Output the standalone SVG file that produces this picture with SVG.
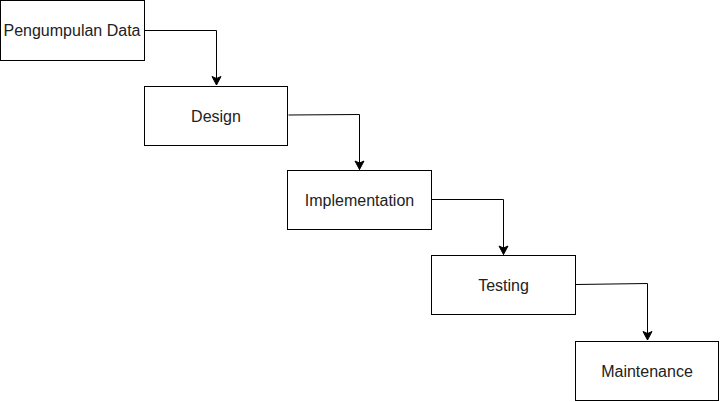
<svg xmlns="http://www.w3.org/2000/svg" width="720" height="402" viewBox="0 0 720 402">
<style>
.box{fill:#fff;stroke:#000;stroke-width:1}
.lbl{font-family:"Liberation Sans",Arial,sans-serif;font-size:16px;fill:#222;text-anchor:middle}
.edge{fill:none;stroke:#000;stroke-width:1}
</style>
<defs>
<marker id="arr" markerUnits="userSpaceOnUse" markerWidth="12" markerHeight="12" viewBox="0 0 12 12" refX="10" refY="6" orient="auto">
<path d="M1.5,1.5 L10,6 L1.5,10.5 L3.5,6 Z" fill="#000" stroke="#000" stroke-width="1"/>
</marker>
</defs>
<rect width="720" height="402" fill="#fff"/>
<g id="connectors">
<path class="edge" d="M144.5,30.5 H216.5 V85" marker-end="url(#arr)"/>
<path class="edge" d="M288.5,115 L359.5,114.5 V169.5" marker-end="url(#arr)"/>
<path class="edge" d="M432,199.5 H503.5 V254.5" marker-end="url(#arr)"/>
<path class="edge" d="M575.5,284.5 L647.5,283.5 V340" marker-end="url(#arr)"/>
</g>
<g id="n1"><rect class="box" x="0.5" y="0.5" width="144" height="60"/><text class="lbl" x="72" y="36">Pengumpulan Data</text></g>
<g id="n2"><rect class="box" x="144.5" y="86.5" width="143" height="59"/><text class="lbl" x="216" y="121.5">Design</text></g>
<g id="n3"><rect class="box" x="287.5" y="170.5" width="144" height="59"/><text class="lbl" x="359.5" y="205.5">Implementation</text></g>
<g id="n4"><rect class="box" x="431.5" y="255.5" width="144" height="59"/><text class="lbl" x="503.5" y="290.5">Testing</text></g>
<g id="n5"><rect class="box" x="575.5" y="341.5" width="143" height="59"/><text class="lbl" x="647" y="376.5">Maintenance</text></g>
</svg>
